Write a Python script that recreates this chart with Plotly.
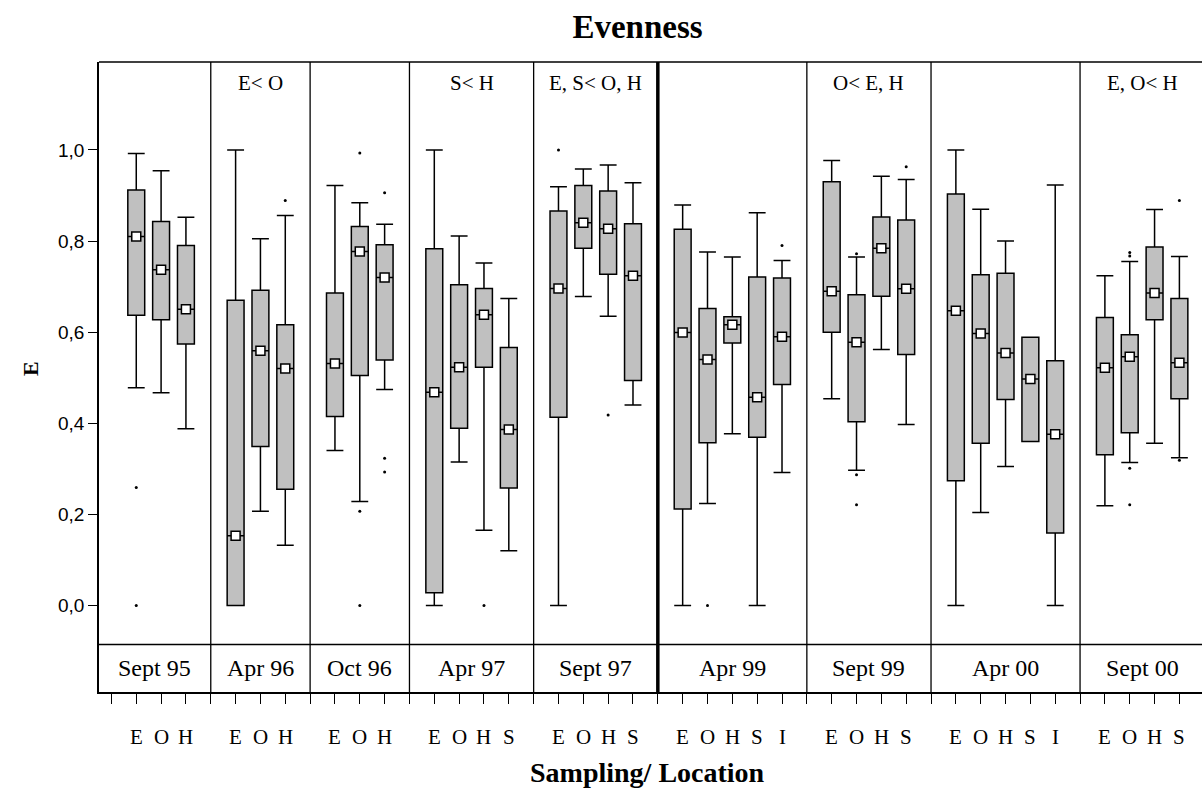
import plotly.graph_objects as go

# ---------------- data ----------------
sessions = ["Sept 95", "Apr 96", "Oct 96", "Apr 97", "Sept 97",
            "Apr 99", "Sept 99", "Apr 00", "Sept 00"]
locations = [["E", "O", "H"], ["E", "O", "H"], ["E", "O", "H"],
             ["E", "O", "H", "S"], ["E", "O", "H", "S"],
             ["E", "O", "H", "S", "I"], ["E", "O", "H", "S"],
             ["E", "O", "H", "S", "I"], ["E", "O", "H", "S"]]
tests = ["", "E< O", "", "S< H", "E, S< O, H", "", "O< E, H", "", "E, O< H"]

lower = [0.478, 0.467, 0.388,
         0.0, 0.207, 0.132,
         0.34, 0.228, 0.474,
         0.0, 0.315, 0.165, 0.12,
         0.0, 0.678, 0.635, 0.44,
         0.0, 0.224, 0.377, 0.0, 0.292,
         0.454, 0.297, 0.562, 0.397,
         0.0, 0.204, 0.305, 0.36, 0.0,
         0.219, 0.314, 0.356, 0.324]
q1 = [0.637, 0.627, 0.574,
      0.0, 0.349, 0.255,
      0.415, 0.505, 0.539,
      0.028, 0.389, 0.523, 0.258,
      0.413, 0.784, 0.727, 0.494,
      0.212, 0.357, 0.576, 0.369, 0.485,
      0.60, 0.403, 0.679, 0.551,
      0.274, 0.356, 0.452, 0.36, 0.159,
      0.331, 0.379, 0.627, 0.454]
median = [0.81, 0.737, 0.65,
          0.153, 0.559, 0.52,
          0.531, 0.777, 0.72,
          0.468, 0.523, 0.638, 0.386,
          0.696, 0.84, 0.827, 0.724,
          0.599, 0.54, 0.616, 0.457, 0.59,
          0.69, 0.578, 0.784, 0.695,
          0.647, 0.597, 0.554, 0.497, 0.376,
          0.522, 0.546, 0.686, 0.533]
q3 = [0.912, 0.843, 0.79,
      0.67, 0.692, 0.616,
      0.686, 0.832, 0.792,
      0.783, 0.704, 0.696, 0.566,
      0.866, 0.922, 0.91, 0.838,
      0.826, 0.652, 0.634, 0.721, 0.719,
      0.93, 0.682, 0.853, 0.846,
      0.903, 0.726, 0.729, 0.589, 0.537,
      0.632, 0.594, 0.787, 0.674]
upper = [0.992, 0.954, 0.852,
         1.0, 0.805, 0.856,
         0.922, 0.884, 0.837,
         1.0, 0.811, 0.752, 0.674,
         0.919, 0.958, 0.967, 0.928,
         0.879, 0.776, 0.765, 0.862, 0.757,
         0.977, 0.765, 0.942, 0.935,
         1.0, 0.87, 0.80, 0.589, 0.923,
         0.724, 0.755, 0.869, 0.766]
outliers = [[0.259, 0.0], [], [],
            [], [], [0.889],
            [], [0.993, 0.207, 0.0], [0.906, 0.323, 0.293],
            [], [], [0.0], [],
            [1.0], [], [0.418], [],
            [], [0.0], [], [], [0.79],
            [], [0.772, 0.287, 0.221], [], [0.963],
            [], [], [], [], [],
            [], [0.775, 0.767, 0.301, 0.221], [], [0.889, 0.319]]
y_ticks = [0.0, 0.2, 0.4, 0.6, 0.8, 1.0]

# ---------------- layout helpers (slot positions) ----------------
positions, letters, bounds, centers = [], [], [], []
b = 0
for s, locs in zip(sessions, locations):
    start = b
    for j, l in enumerate(locs):
        positions.append(b + 1 + j)
        letters.append(l)
    b = b + len(locs) + 1
    bounds.append(b)
    centers.append(((start if start > 0 else -0.5) + b) / 2)

XMIN, XMAX = -0.5, 43.91
YMIN, YMAX = -0.19, 1.193
STRIP = -0.0856

fig = go.Figure()
fig.add_trace(go.Box(
    x=positions, q1=q1, median=median, q3=q3,
    lowerfence=lower, upperfence=upper,
    width=0.68, whiskerwidth=1.0,
    fillcolor="#c0c0c0", line=dict(color="black", width=1.5),
    boxpoints=False, showlegend=False, hoverinfo="skip"))

ox, oy = [], []
for p, vals in zip(positions, outliers):
    for v in vals:
        ox.append(p)
        oy.append(v)
fig.add_trace(go.Scatter(x=ox, y=oy, mode="markers",
                         marker=dict(color="black", size=3),
                         showlegend=False, hoverinfo="skip"))
fig.add_trace(go.Scatter(x=positions, y=median, mode="markers",
                         marker=dict(symbol="square", size=9, color="white",
                                     line=dict(color="black", width=1.5)),
                         showlegend=False, hoverinfo="skip"))

shapes = [
    dict(type="line", xref="x", yref="paper", x0=XMIN, x1=44.5, y0=1, y1=1,
         line=dict(color="black", width=1.5)),
    dict(type="line", xref="x", yref="y", x0=XMIN, x1=44.5, y0=STRIP, y1=STRIP,
         line=dict(color="black", width=1.5)),
]
for k in bounds[:-1]:
    shapes.append(dict(type="line", xref="x", yref="paper", x0=k, x1=k, y0=0, y1=1,
                       line=dict(color="black", width=3.5 if k == 22 else 1.3)))

SERIF = "Liberation Serif"
annotations = []
for s, c, t in zip(sessions, centers, tests):
    annotations.append(dict(x=c, y=(STRIP + YMIN) / 2, xref="x", yref="y", text=s,
                            showarrow=False, xanchor="center", yanchor="middle",
                            font=dict(family=SERIF, size=24, color="black")))
    if t:
        annotations.append(dict(x=c, y=1.147, xref="x", yref="y", text=t,
                                showarrow=False, xanchor="center", yanchor="middle",
                                font=dict(family=SERIF, size=21, color="black")))
for p, l in zip(positions, letters):
    annotations.append(dict(x=p, y=-0.0714, xref="x", yref="paper", text=l,
                            showarrow=False, xanchor="center", yanchor="middle",
                            font=dict(family=SERIF, size=21, color="black")))
annotations.append(dict(x=0.497, y=-0.127, xref="paper", yref="paper",
                        text="<b>Sampling/ Location</b>", showarrow=False,
                        xanchor="center", yanchor="middle",
                        font=dict(family=SERIF, size=28, color="black")))
annotations.append(dict(x=-0.0628, y=0.514, xref="paper", yref="paper",
                        text="<b>E</b>", textangle=-90, showarrow=False,
                        xanchor="center", yanchor="middle",
                        font=dict(family=SERIF, size=22, color="black")))

fig.update_layout(
    width=1202, height=793,
    margin=dict(l=99, r=0, t=62, b=101, pad=0),
    paper_bgcolor="white", plot_bgcolor="white",
    separators=",.",
    title=dict(text="<b>Evenness</b>", x=0.5304, xanchor="center",
               y=1 - 26 / 793, yanchor="middle",
               font=dict(family=SERIF, size=33, color="black")),
    xaxis=dict(range=[XMIN, XMAX], showgrid=False, zeroline=False,
               showline=True, linecolor="black", linewidth=1.5,
               tickmode="array", tickvals=list(range(0, 44)),
               ticks="outside", ticklen=10, tickwidth=1.3, tickcolor="black",
               showticklabels=False),
    yaxis=dict(range=[YMIN, YMAX], showgrid=False, zeroline=False,
               showline=True, linecolor="black", linewidth=1.5,
               tickmode="array", tickvals=y_ticks, tickformat=".1f",
               ticks="outside", ticklen=9, tickwidth=1.3, tickcolor="black",
               tickfont=dict(family="Liberation Sans", size=19, color="black")),
    shapes=shapes, annotations=annotations,
)

fig.write_html("out.html")
